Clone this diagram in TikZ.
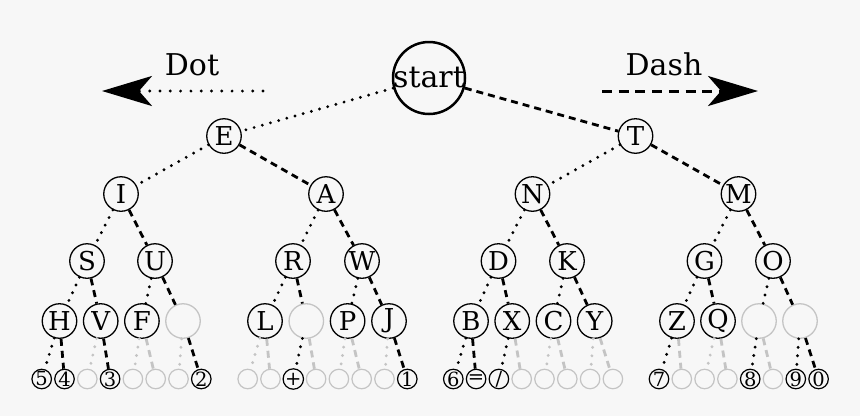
\documentclass[tikz,border=0pt]{standalone}
\usepackage{fontspec}
\setmainfont{DejaVu Serif}
\usetikzlibrary{arrows.meta}

\definecolor{paper}{RGB}{247,247,247}
\definecolor{faint}{RGB}{196,196,196}

\tikzset{
  letter/.style={circle, draw, line width=1.3pt, minimum size=34.5pt, inner sep=0pt,
    font=\fontsize{26}{26}\selectfont},
  blank/.style={letter, draw=faint},
  leaf/.style={circle, draw, line width=1.2pt, minimum size=19.5pt, inner sep=0pt,
    font=\fontsize{19.5}{19.5}\selectfont},
  ghost/.style={draw=faint},
  ink/.style={},
  dotline/.style={line width=3.2pt, line cap=round, dash pattern=on 0pt off 8.5pt},
  dashline/.style={line width=2.8pt, dash pattern=on 7pt off 5pt},
  bigtip/.style={-{Stealth[length=50pt,width=30pt,inset=13pt]}},
}

\begin{document}
\begin{tikzpicture}[x=1pt, y=-1pt]
  \fill[paper] (0,0) rectangle (860,416);
  \useasboundingbox (0,0) rectangle (860,416);

  % root
  \node[circle, draw, line width=2.5pt, minimum size=72pt, inner sep=0pt] (start) at (429,78) {};
  \node[font=\fontsize{30}{30}\selectfont, inner sep=0pt] (startlbl) at (start) {start};

  % legend arrows
  \node[font=\fontsize{30}{30}\selectfont, anchor=base] (dotlbl) at (192,75) {Dot};
  \node[font=\fontsize{30}{30}\selectfont, anchor=base] (dashlbl) at (664,75) {Dash};
  \coordinate (dotfrom) at (263,91);
  \coordinate (dotto) at (102,91);
  \coordinate (dashfrom) at (602,91);
  \coordinate (dashto) at (758,91);
  \draw[dotline, line width=3.2pt, dash pattern=on 0pt off 10.3pt, bigtip] (dotfrom) -- (dotto);
  \draw[dashline, line width=3pt, dash pattern=on 10pt off 6.7pt, bigtip] (dashfrom) -- (dashto);

  % levels 1 to 3
  \node[letter] (E) at (224,136) {E};
  \node[letter] (T) at (635.5,136) {T};
  \node[letter] (I) at (121,194) {I};
  \node[letter] (A) at (326,194) {A};
  \node[letter] (N) at (532.5,194) {N};
  \node[letter] (M) at (738.5,194) {M};
  \node[letter] (S) at (87,261) {S};
  \node[letter] (U) at (155,261) {U};
  \node[letter] (R) at (293,261) {R};
  \node[letter] (W) at (362,261) {W};
  \node[letter] (D) at (498.5,261) {D};
  \node[letter] (K) at (567,261) {K};
  \node[letter] (G) at (704.5,261) {G};
  \node[letter] (O) at (773,261) {O};

  % level 4
  \node[letter] (H) at (59.5,321) {H};
  \node[letter] (V) at (100.7,321) {V};
  \node[letter] (F) at (141.9,321) {F};
  \node[blank] (blank1) at (183,321) {};
  \node[letter] (L) at (265,321) {L};
  \node[blank] (blank2) at (306.3,321) {};
  \node[letter] (P) at (347.6,321) {P};
  \node[letter] (J) at (389,321) {J};
  \node[letter] (B) at (471,321) {B};
  \node[letter] (X) at (512.2,321) {X};
  \node[letter] (C) at (553.5,321) {C};
  \node[letter] (Y) at (594.7,321) {Y};
  \node[letter] (Z) at (677,321) {Z};
  \node[letter] (Q) at (718,321) {Q};
  \node[blank] (blank3) at (759,321) {};
  \node[blank] (blank4) at (800,321) {};

  % branches
  \foreach \a/\b in {start/E, E/I, T/N, I/S, A/R, N/D, M/G, S/H, U/F, R/L, W/P, D/B, K/C, G/Z, O/blank3}
    \draw[dotline] (\a) -- (\b);
  \foreach \a/\b in {start/T, E/A, T/M, I/U, A/W, N/K, M/O, S/V, U/blank1, R/blank2, W/J, D/X, K/Y, G/Q, O/blank4}
    \draw[dashline] (\a) -- (\b);

  % level 5
  \foreach \x/\p/\e/\g/\t [count=\k] in {
    41.7/H/dotline/ink/5, 64.5/H/dashline/ink/4, 87.3/V/dotline/ghost/{}, 110.1/V/dashline/ink/3,
    132.9/F/dotline/ghost/{}, 155.7/F/dashline/ghost/{}, 178.5/blank1/dotline/ghost/{}, 201.3/blank1/dashline/ink/2,
    247.7/L/dotline/ghost/{}, 270.5/L/dashline/ghost/{}, 293.3/blank2/dotline/ink/+, 316.1/blank2/dashline/ghost/{},
    338.9/P/dotline/ghost/{}, 361.7/P/dashline/ghost/{}, 384.5/J/dotline/ghost/{}, 407.3/J/dashline/ink/1,
    453.3/B/dotline/ink/6, 476.1/B/dashline/ink/{=}, 498.9/X/dotline/ink/{/}, 521.7/X/dashline/ghost/{},
    544.5/C/dotline/ghost/{}, 567.3/C/dashline/ghost/{}, 590.1/Y/dotline/ghost/{}, 612.9/Y/dashline/ghost/{},
    659/Z/dotline/ink/7, 681.8/Z/dashline/ghost/{}, 704.6/Q/dotline/ghost/{}, 727.4/Q/dashline/ghost/{},
    750.2/blank3/dotline/ink/8, 773/blank3/dashline/ghost/{}, 795.8/blank4/dotline/ink/9, 818.6/blank4/dashline/ink/0}
  {
    \node[leaf, \g] (leaf\k) at (\x,379) {\t};
    \draw[\e, \g] (\p) -- (leaf\k);
  }
\end{tikzpicture}
\end{document}
